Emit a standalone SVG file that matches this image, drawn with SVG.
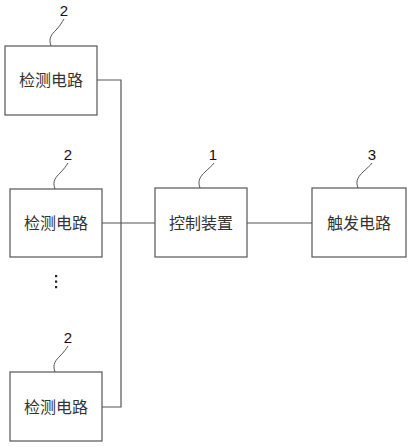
<svg xmlns="http://www.w3.org/2000/svg" width="408" height="447" viewBox="0 0 408 447">
<style>
.box{fill:#fff;stroke:#555;stroke-width:1.2}
.t{font-family:"Noto Sans CJK SC","Noto Sans",sans-serif;font-size:16px;fill:#333;text-anchor:middle}
.n{font-family:"Liberation Sans",Arial,sans-serif;font-size:15px;fill:#111;text-anchor:middle}
.lead{fill:none;stroke:#555;stroke-width:1}
.c{fill:none;stroke:#555;stroke-width:1.2}
</style>
<rect width="408" height="447" fill="#fff"/>
<g id="connectors">
<polyline class="c" points="97,80 121,80 121,407 102,407"/>
<line class="c" x1="102" y1="223" x2="155" y2="223"/>
<line class="c" x1="247" y1="223" x2="312" y2="223"/>
</g>
<g id="detect1">
<rect class="box" x="5" y="46" width="92" height="69"/>
<text class="t" x="51" y="86">检测电路</text>
<path class="lead" d="M51,46 C48,38 52,34 56,30 C60,26 62,22 64,19"/>
<text class="n" x="64" y="16">2</text>
</g>
<g id="detect2">
<rect class="box" x="10" y="189" width="92" height="68"/>
<text class="t" x="56" y="229">检测电路</text>
<path class="lead" d="M55,189 C52,181 56,177 60,173 C64,169 66,166 68,163"/>
<text class="n" x="68" y="160">2</text>
</g>
<g id="dots">
<rect x="55" y="275" width="2.2" height="2.2" fill="#222"/>
<rect x="55" y="280.5" width="2.2" height="2.2" fill="#222"/>
<rect x="55" y="286" width="2.2" height="2.2" fill="#222"/>
</g>
<g id="detect3">
<rect class="box" x="10" y="372" width="92" height="69"/>
<text class="t" x="56" y="413">检测电路</text>
<path class="lead" d="M55,372 C52,364 56,360 60,356 C64,352 66,349 68,346"/>
<text class="n" x="68" y="343">2</text>
</g>
<g id="control">
<rect class="box" x="155" y="188" width="92" height="69"/>
<text class="t" x="201" y="229">控制装置</text>
<path class="lead" d="M200,188 C197,180 201,176 205,172 C209,168 212,166 214,163"/>
<text class="n" x="213" y="160">1</text>
</g>
<g id="trigger">
<rect class="box" x="312" y="188" width="94" height="69"/>
<text class="t" x="359" y="229">触发电路</text>
<path class="lead" d="M358,188 C355,180 359,176 363,172 C367,168 370,166 372,163"/>
<text class="n" x="372" y="160">3</text>
</g>
</svg>
